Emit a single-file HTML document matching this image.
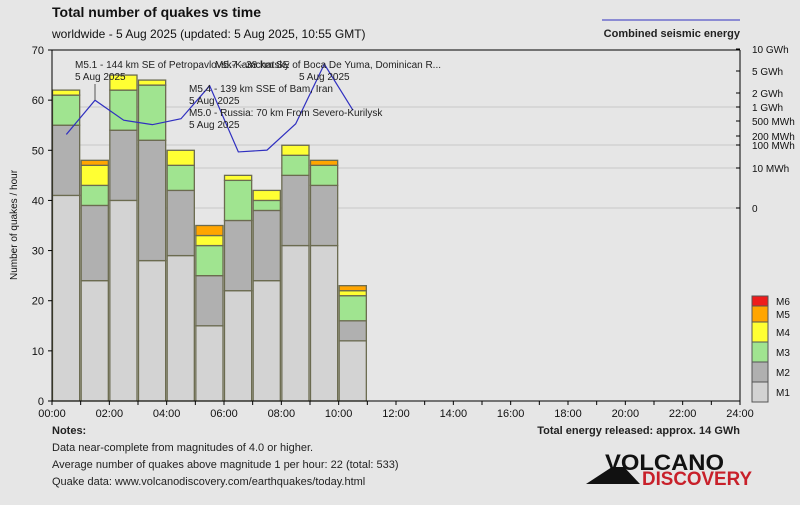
<!DOCTYPE html>
<html><head><meta charset="utf-8"><style>
body{margin:0;background:#e6e6e6;font-family:"Liberation Sans",sans-serif;}
svg text{font-family:"Liberation Sans",sans-serif;}
</style></head><body>
<svg id="c" width="800" height="500" viewBox="0 0 800 500" xmlns="http://www.w3.org/2000/svg">
<rect width="800" height="500" fill="#e6e6e6"/>
<text x="52" y="17" font-size="14" font-weight="bold" fill="#111">Total number of quakes vs time</text>
<text x="52" y="38" font-size="12" fill="#111">worldwide -  5 Aug 2025 (updated: 5 Aug 2025, 10:55 GMT)</text>
<line x1="602" y1="20" x2="740" y2="20" stroke="#3030c0"/>
<text x="740" y="37" font-size="11" font-weight="bold" text-anchor="end" fill="#222">Combined seismic energy</text>
<g id="grid"></g><g id="bars"></g><g id="axes"></g><g id="line"></g><g id="ann"></g>
<text x="52" y="434" font-size="11" font-weight="bold" fill="#222">Notes:</text>
<text x="52" y="451" font-size="11" fill="#222">Data near-complete from magnitudes of 4.0 or higher.</text>
<text x="52" y="468" font-size="11" fill="#222">Average number of quakes above magnitude 1 per hour: 22 (total: 533)</text>
<text x="52" y="485" font-size="11" fill="#222">Quake data: www.volcanodiscovery.com/earthquakes/today.html</text>
<text x="740" y="434" font-size="11" font-weight="bold" text-anchor="end" fill="#222">Total energy released: approx. 14 GWh</text>
<g>
<polygon points="586,484 612,467 624,467 640,484" fill="#111"/>
<text x="605" y="470" font-size="22" font-weight="bold" fill="#111" textLength="119" lengthAdjust="spacingAndGlyphs">VOLCANO</text>
<text x="642" y="485" font-size="19" font-weight="bold" fill="#c8202a" textLength="110" lengthAdjust="spacingAndGlyphs">DISCOVERY</text>
</g>
</svg>
<script>
const hours=[0,1,2,3,4,5,6,7,8,9,10];
const m1=[41,24,40,28,29,15,22,24,31,31,12];
const m2=[14,15,14,24,13,10,14,14,14,12,4];
const m3=[6,4,8,11,5,6,8,2,4,4,5];
const m4=[1,4,3,1,3,2,1,2,2,0,1];
const m5=[0,1,0,0,0,2,0,0,0,1,1];
const m6=[0,0,0,0,0,0,0,0,0,0,0];
const energyMWh=[220,1400,520,400,560,2700,50,60,420,6200,850];
const yTicks=[0,10,20,30,40,50,60,70];
const xTickLabels=["00:00","02:00","04:00","06:00","08:00","10:00","12:00","14:00","16:00","18:00","20:00","22:00","24:00"];
const eTickVals=[0,10,100,200,500,1000,2000,5000,10000];
const eTickLabels=["0","10 MWh","100 MWh","200 MWh","500 MWh","1 GWh","2 GWh","5 GWh","10 GWh"];
const eTickY=[208,168,145,136,121,107,93,71,49];
const NS="http://www.w3.org/2000/svg";
const X0=52,X1=740,Y0=401,Y1=50;
const x=h=>X0+(X1-X0)*h/24;
const y=v=>Y0-(Y0-Y1)*v/70;
function ey(e){
  if(e<=0)return eTickY[0];
  if(e<10)return eTickY[0]+(eTickY[1]-eTickY[0])*e/10;
  for(let i=1;i<eTickVals.length-1;i++){
    if(e<=eTickVals[i+1]){
      const a=Math.log(eTickVals[i]),b=Math.log(eTickVals[i+1]);
      return eTickY[i]+(eTickY[i+1]-eTickY[i])*(Math.log(e)-a)/(b-a);
    }
  }
  return eTickY[eTickY.length-1];
}
function mk(t,a,p){const e=document.createElementNS(NS,t);for(const k in a)e.setAttribute(k,a[k]);(p||document.getElementById('c')).appendChild(e);return e;}
const G=document.getElementById('grid'),B=document.getElementById('bars'),A=document.getElementById('axes'),L=document.getElementById('line'),N=document.getElementById('ann');
[0,1,2,5].forEach(i=>{const g=mk('line',{x1:X0,x2:X1,y1:eTickY[i],y2:eTickY[i],stroke:'#d2d2d2','stroke-width':1.5},G);

});
const series=[m1,m2,m3,m4,m5,m6];
const cols=['#d3d3d3','#b0b0b0','#a0e490','#ffff33','#ffa500','#ee1c1c'];
const names=['m1','m2','m3','m4','m5','m6'];
hours.forEach((h,i)=>{let acc=0;
  series.forEach((s,k)=>{const v=s[i];if(!v)return;
    const r=mk('rect',{x:x(h)+0.5,y:y(acc+v),width:x(1)-X0-1.5,height:y(acc)-y(acc+v),fill:cols[k],stroke:'#6b6b50','stroke-width':1.3},B);
    
    
    acc+=v;});});
mk('line',{x1:X0,y1:Y1,x2:X0,y2:Y0,stroke:'#000'},A);
mk('line',{x1:X0,y1:Y1,x2:X1,y2:Y1,stroke:'#000'},A);
mk('line',{x1:X0,y1:Y0,x2:X1,y2:Y0,stroke:'#000'},A);
mk('line',{x1:X1,y1:Y1,x2:X1,y2:Y0,stroke:'#000'},A);
yTicks.forEach(v=>{mk('line',{x1:X0-4,x2:X0,y1:y(v),y2:y(v),stroke:'#000'},A);
const t=mk('text',{x:X0-8,y:y(v)+4,'font-size':11,'text-anchor':'end',fill:'#111'},A);t.textContent=v;

});
for(let h=0;h<=24;h++){mk('line',{x1:x(h),x2:x(h),y1:Y0,y2:Y0+4,stroke:'#000'},A);}
xTickLabels.forEach((l,i)=>{const xx=x(i*2);
const t=mk('text',{x:xx,y:Y0+16,'font-size':11,'text-anchor':'middle',fill:'#111'},A);t.textContent=l;

});
const yt=mk('text',{x:17,y:225,'font-size':10,'text-anchor':'middle',fill:'#111',transform:'rotate(-90 17 225)'},A);yt.textContent='Number of quakes / hour';


eTickLabels.forEach((l,i)=>{const yy=eTickY[i];mk('line',{x1:X1-4,x2:X1,y1:yy,y2:yy,stroke:'#000'},A);
const t=mk('text',{x:X1+12,y:yy+4,'font-size':10,fill:'#111'},A);t.textContent=l;

});
const lg=['M1','M2','M3','M4','M5','M6'];
const lgTop=[382,362,342,322,306,296];
const lgH=[20,20,20,20,16,10];
lg.forEach((l,k)=>{const r=mk('rect',{x:752,y:lgTop[k],width:16,height:lgH[k],fill:cols[k],stroke:'#555'},A);


const t=mk('text',{x:776,y:lgTop[k]+lgH[k]/2+4,'font-size':10,fill:'#111'},A);t.textContent=l;

});
const pts=hours.map((h,i)=>x(h+0.5)+','+ey(energyMWh[i])).join(' ');
const pl=mk('polyline',{points:pts,fill:'none',stroke:'#3030c0','stroke-width':1.2},L);


const ann=[[75,68,"M5.1 - 144 km SE of Petropavlovsk-Kamchatsky"],[75,80,"5 Aug 2025"],[215,68,"M5.7 - 38 km SE of Boca De Yuma, Dominican R..."],[299,80,"5 Aug 2025"],[189,92,"M5.4 - 139 km SSE of Bam, Iran"],[189,104,"5 Aug 2025"],[189,116,"M5.0 - Russia: 70 km From Severo-Kurilysk"],[189,128,"5 Aug 2025"]];
ann.forEach(a=>{const t=mk('text',{x:a[0],y:a[1],'font-size':10,fill:'#222'},N);t.textContent=a[2];

});
mk('line',{x1:95,y1:84,x2:95,y2:100,stroke:'#555'},N);
</script>
</body></html>
